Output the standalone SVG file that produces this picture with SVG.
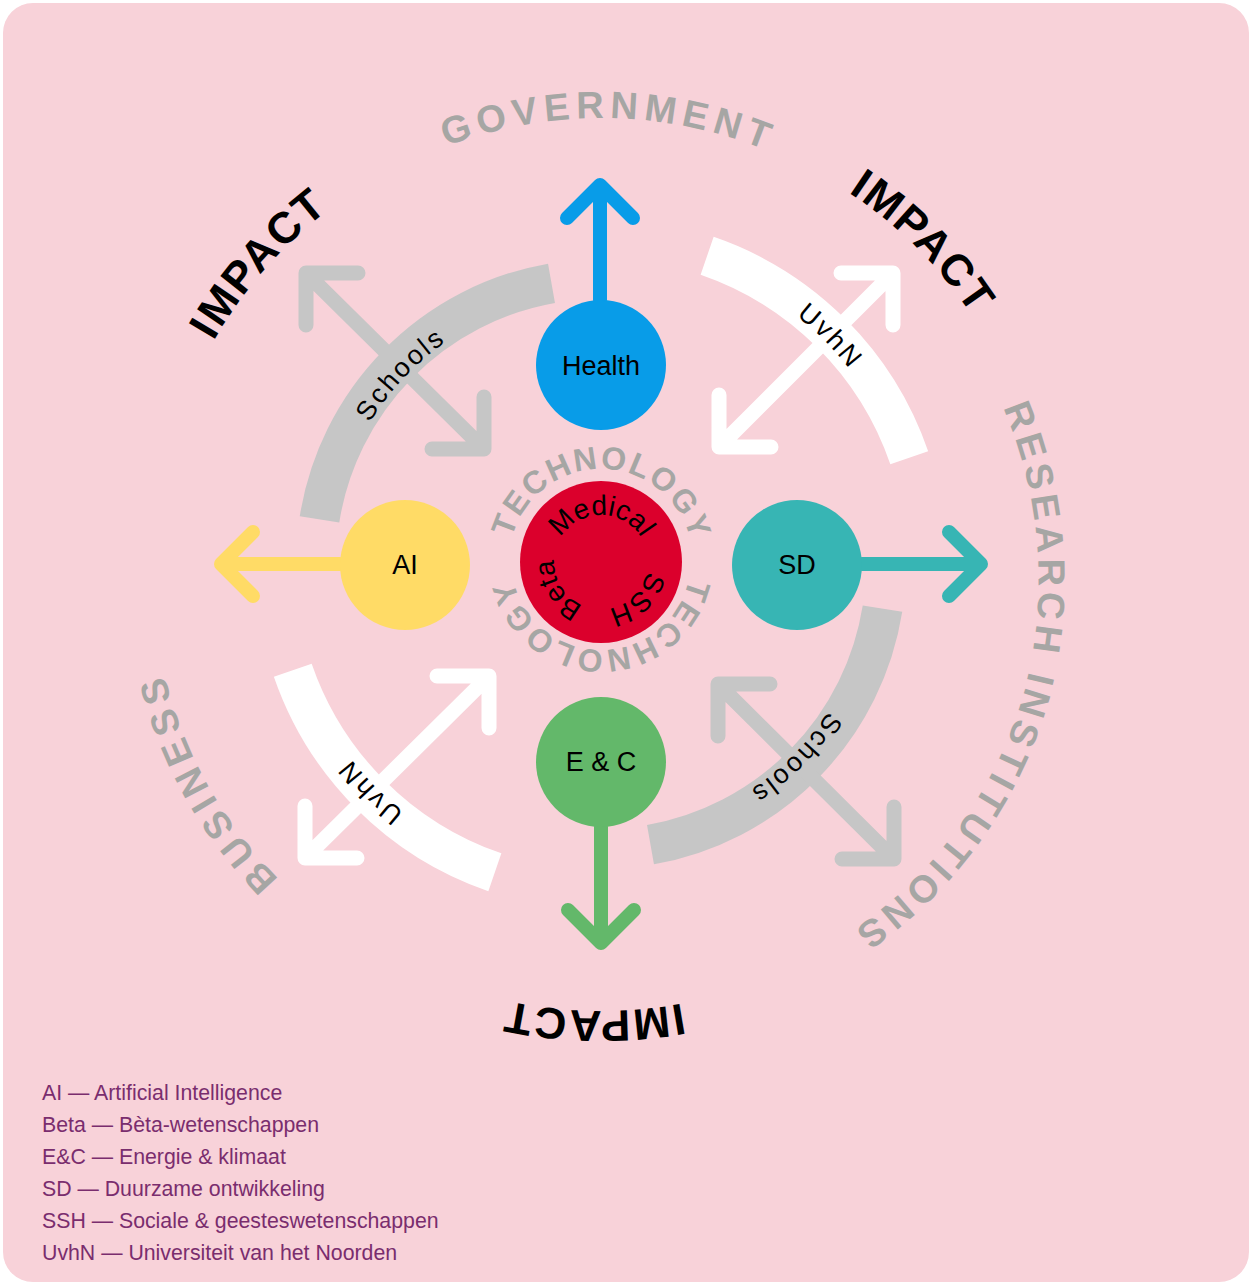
<svg xmlns="http://www.w3.org/2000/svg" xmlns:xlink="http://www.w3.org/1999/xlink" width="1252" height="1285" viewBox="0 0 1252 1285">
<style>
text{font-family:"Liberation Sans",Arial,sans-serif}
.ring{font-weight:bold;fill:#a6a6a4;font-size:38px;letter-spacing:6px}
.ring2{font-weight:bold;fill:#a6a6a4;font-size:38px;letter-spacing:5px}
.impact{font-weight:bold;fill:#000;font-size:44px;letter-spacing:2px}
.tech{font-weight:bold;fill:#a6a6a4;font-size:32px;letter-spacing:2px}
.inner{fill:#000;font-size:28px}
.lbl{fill:#000;font-size:27px;letter-spacing:2.5px}
.node{fill:#000;font-size:27px;text-anchor:middle}
.leg{fill:#7a2d6e;font-size:21.3px}
.band{fill:none;stroke-width:40}
.dg{fill:none;stroke-width:15;stroke-linecap:round;stroke-linejoin:round}
.ca{fill:none;stroke-width:14;stroke-linecap:round;stroke-linejoin:round}
</style>
<defs>
<path id="pGov" d="M593.22,1009.93 A446,446 0 0 1 608.78,118.07 A446,446 0 0 1 593.22,1009.93"/>
<path id="pRes" d="M186.9,454.9 A435,435 0 0 1 1022.3,697.7 A435,435 0 0 1 186.9,454.9"/>
<path id="pBus" d="M995.45,345.35 A451,451 0 0 1 206.55,782.65 A451,451 0 0 1 995.45,345.35"/>
<path id="pImpUL" d="M937.07,858.73 A447,447 0 0 1 264.93,269.27 A447,447 0 0 1 937.07,858.73"/>
<path id="pImpUR" d="M284.93,880.07 A447,447 0 0 1 917.07,247.93 A447,447 0 0 1 284.93,880.07"/>
<path id="pImpB" d="M608.02,117.05 A447,447 0 0 1 593.98,1010.95 A447,447 0 0 1 608.02,117.05"/>
<path id="pTechT" d="M599.39,652.99 A92,92 0 0 1 602.61,469.01 A92,92 0 0 1 599.39,652.99"/>
<path id="pTechB" d="M601,470 A90,90 0 0 1 601,650 A90,90 0 0 1 601,470"/>
<path id="pMed" d="M601,609 A47,47 0 0 1 601,515 A47,47 0 0 1 601,609"/>
<path id="pSSH" d="M568.35,528.19 A47,47 0 0 1 633.65,595.81 A47,47 0 0 1 568.35,528.19"/>
<path id="pBeta" d="M640.64,536.75 A47,47 0 0 1 561.36,587.25 A47,47 0 0 1 640.64,536.75"/>
<path id="pSchUL" d="M797.85,750.26 A271,271 0 0 1 404.15,377.74 A271,271 0 0 1 797.85,750.26"/>
<path id="pSchLR" d="M409.04,372.71 A271,271 0 0 1 792.96,755.29 A271,271 0 0 1 409.04,372.71"/>
<path id="pUvUR" d="M376.78,786.66 A316,316 0 0 1 825.22,341.34 A316,316 0 0 1 376.78,786.66"/>
<path id="pUvLL" d="M826.71,341.42 A317,317 0 0 1 375.29,786.58 A317,317 0 0 1 826.71,341.42"/>
</defs>
<rect x="3" y="3" width="1246" height="1279" rx="30" fill="#f8d2d9"/>

<g id="bands">
<path class="band" stroke="#c6c6c6" d="M319.51,519.42 A285,285 0 0 1 551.51,283.33"/>
<path class="band" stroke="#c6c6c6" d="M882.49,608.58 A285,285 0 0 1 650.49,844.67"/>
<path class="band" stroke="#ffffff" d="M707.14,255.76 A326,326 0 0 1 909.24,457.86"/>
<path class="band" stroke="#ffffff" d="M494.86,872.24 A326,326 0 0 1 292.76,670.14"/>
</g>

<g id="connectors">
<g class="dg" stroke="#c6c6c6">
<path d="M306,273 L484,449 M358,273 L306,273 L306,325 M432,449 L484,449 L484,397"/>
<path d="M718,684 L894,859 M770,684 L718,684 L718,736 M842,859 L894,859 L894,807"/>
</g>
<g class="dg" stroke="#ffffff">
<path d="M893,273 L719,447 M841,273 L893,273 L893,325 M719,395 L719,447 L771,447"/>
<path d="M489,676 L305,858 M437,676 L489,676 L489,728 M305,806 L305,858 L357,858"/>
</g>
<path class="ca" stroke="#089ce8" d="M600,300 L600,185 M567,218 L600,185 L633,218"/>
<path class="ca" stroke="#ffdb66" d="M340,564 L221,564 M253,532 L221,564 L253,596"/>
<path class="ca" stroke="#37b5b4" d="M862,564 L981,564 M949,532 L981,564 L949,596"/>
<path class="ca" stroke="#63b86a" d="M601,827 L601,943 M568,910 L601,943 L634,910"/>
</g>

<g id="band-labels">
<text class="lbl"><textPath xlink:href="#pSchUL" href="#pSchUL" startOffset="50%" text-anchor="middle">Schools</textPath></text>
<text class="lbl"><textPath xlink:href="#pSchLR" href="#pSchLR" startOffset="50%" text-anchor="middle">Schools</textPath></text>
<text class="lbl"><textPath xlink:href="#pUvUR" href="#pUvUR" startOffset="50%" text-anchor="middle">UvhN</textPath></text>
<text class="lbl"><textPath xlink:href="#pUvLL" href="#pUvLL" startOffset="50%" text-anchor="middle">UvhN</textPath></text>
</g>

<g id="node-health">
<circle cx="601" cy="365" r="65" fill="#089ce8"/>
<text class="node" x="601" y="375">Health</text>
</g>
<g id="node-ai">
<circle cx="405" cy="565" r="65" fill="#ffdb66"/>
<text class="node" x="405" y="574">AI</text>
</g>
<g id="node-sd">
<circle cx="797" cy="565" r="65" fill="#37b5b4"/>
<text class="node" x="797" y="574">SD</text>
</g>
<g id="node-ec">
<circle cx="601" cy="762" r="65" fill="#63b86a"/>
<text class="node" x="601" y="771">E &amp; C</text>
</g>
<g id="node-core">
<circle cx="601" cy="562" r="81" fill="#db002c"/>
<text class="inner"><textPath xlink:href="#pMed" href="#pMed" startOffset="50%" text-anchor="middle">Medical</textPath></text>
<text class="inner"><textPath xlink:href="#pSSH" href="#pSSH" startOffset="50%" text-anchor="middle">SSH</textPath></text>
<text class="inner"><textPath xlink:href="#pBeta" href="#pBeta" startOffset="50%" text-anchor="middle">Beta</textPath></text>
</g>
<g id="technology">
<text class="tech"><textPath xlink:href="#pTechT" href="#pTechT" startOffset="50%" text-anchor="middle">TECHNOLOGY</textPath></text>
<text class="tech"><textPath xlink:href="#pTechB" href="#pTechB" startOffset="50%" text-anchor="middle">TECHNOLOGY</textPath></text>
</g>
<g id="sectors">
<text class="ring"><textPath xlink:href="#pGov" href="#pGov" startOffset="50%" text-anchor="middle">GOVERNMENT</textPath></text>
<text class="ring2"><textPath xlink:href="#pRes" href="#pRes" startOffset="50%" text-anchor="middle">RESEARCH INSTITUTIONS</textPath></text>
<text class="ring"><textPath xlink:href="#pBus" href="#pBus" startOffset="50%" text-anchor="middle">BUSINESS</textPath></text>
</g>
<g id="impact">
<text class="impact"><textPath xlink:href="#pImpUL" href="#pImpUL" startOffset="50%" text-anchor="middle">IMPACT</textPath></text>
<text class="impact"><textPath xlink:href="#pImpUR" href="#pImpUR" startOffset="50%" text-anchor="middle">IMPACT</textPath></text>
<text class="impact"><textPath xlink:href="#pImpB" href="#pImpB" startOffset="50%" text-anchor="middle">IMPACT</textPath></text>
</g>
<g id="legend">
<text class="leg" x="42" y="1100">AI — Artificial Intelligence</text>
<text class="leg" x="42" y="1132">Beta — Bèta-wetenschappen</text>
<text class="leg" x="42" y="1164">E&amp;C — Energie &amp; klimaat</text>
<text class="leg" x="42" y="1196">SD — Duurzame ontwikkeling</text>
<text class="leg" x="42" y="1228">SSH — Sociale &amp; geesteswetenschappen</text>
<text class="leg" x="42" y="1260">UvhN — Universiteit van het Noorden</text>
</g>
</svg>
